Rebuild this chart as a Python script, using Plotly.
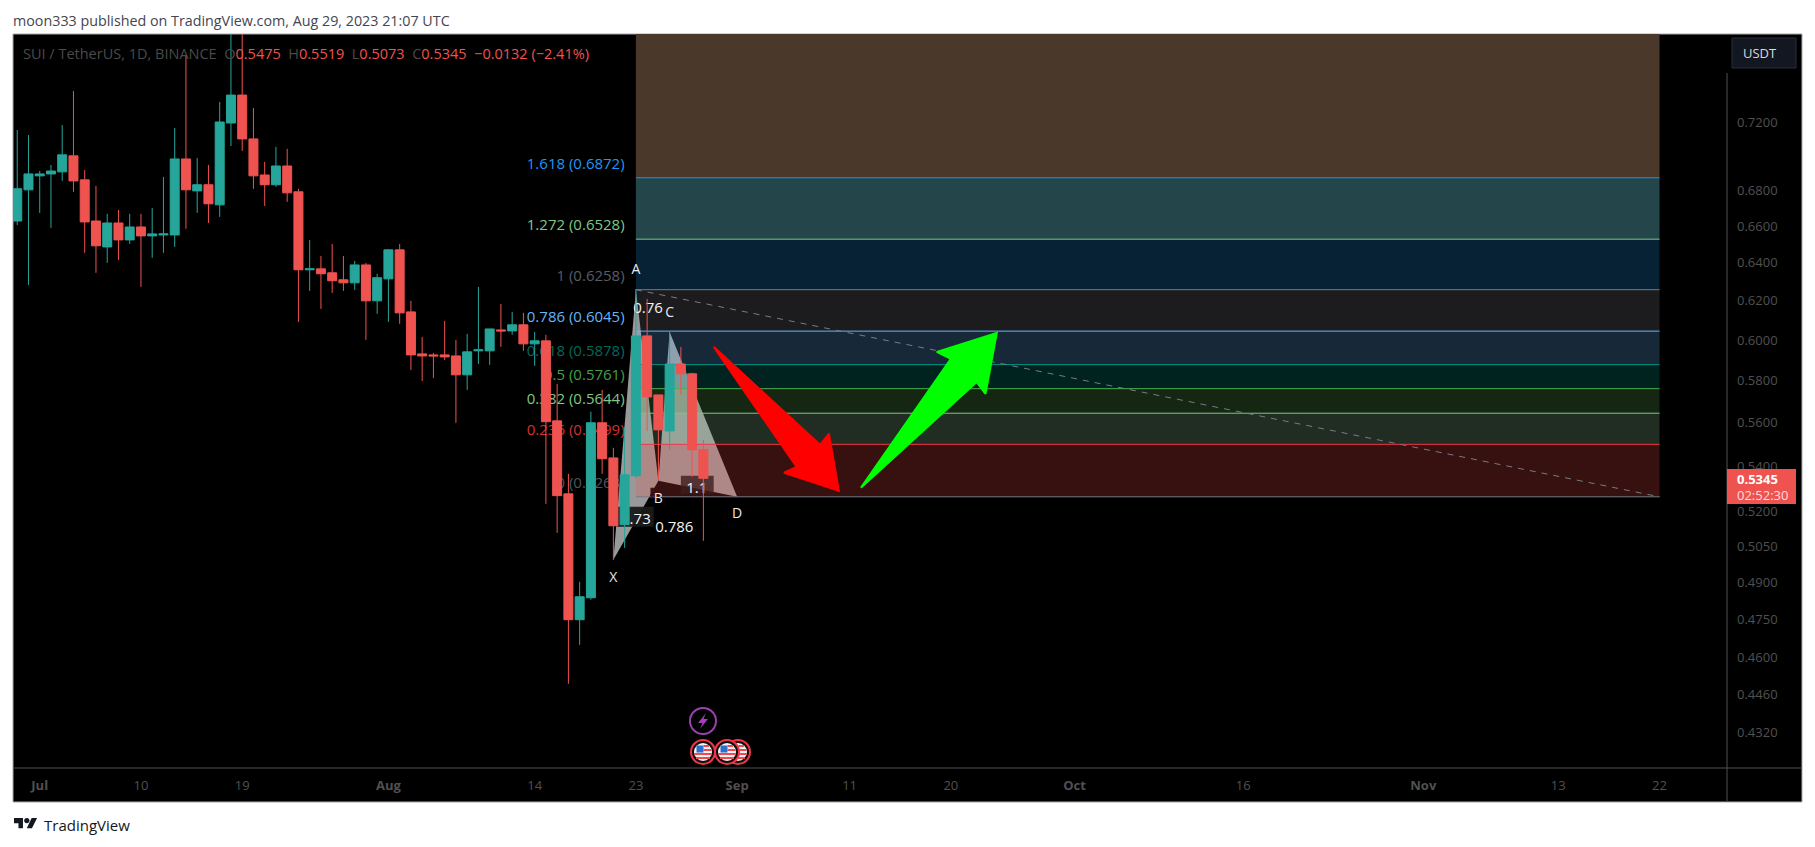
import pandas as pd
import plotly.graph_objects as go

FONT = "Open Sans, sans-serif"
UP = "#26a69a"
DOWN = "#ef5350"
TICK_GREY = "#505050"

first_day = "2023-06-29"
opens = [.6628,.6803,.6883,.6894,.6906,.6999,.6860,.6628,.6486,.6617,.6524,.6595,.6546,.6551,.6551,.6981,.6797,.6832,.6718,.7194,
         .7364,.7099,.6888,.6832,.6940,.6792,.6363,.6368,.6347,.6310,.6294,.6389,.6200,.6315,.6470,.6143,.5931,.5926,.5926,.5921,
         .5828,.5946,.5946,.6051,.6046,.6077,.5981,.5996,.5608,.5276,.4749,.4837,.5599,.5437,.5142,.5356,.6021,.5731,.5561,.5881,
         .5833,.5475]
highs = [.7152,.7122,.6911,.6946,.7182,.7389,.6917,.6826,.6668,.6690,.6668,.6668,.6701,.6877,.7164,.7615,.6987,.6946,.7322,.7900,
         .7900,.7285,.6964,.7052,.7040,.6809,.6524,.6437,.6502,.6437,.6411,.6400,.6342,.6475,.6502,.6200,.6016,.5936,.6097,.6001,
         .6031,.6273,.6056,.6184,.6143,.6138,.6041,.6026,.5784,.5365,.4902,.5651,.5755,.5483,.5580,.6262,.6210,.5731,.6041,.5966,
         .5838,.5519]
lows = [.6606,.6283,.6673,.6590,.6854,.6792,.6454,.6347,.6400,.6416,.6502,.6273,.6427,.6454,.6486,.6585,.6673,.6617,.6651,.7057,
        .7028,.6809,.6712,.6820,.6735,.6092,.6252,.6158,.6241,.6252,.6257,.6001,.6133,.6092,.6082,.5852,.5798,.5813,.5901,.5599,
        .5755,.5881,.5877,.5966,.6026,.5946,.5872,.5232,.5107,.4501,.4650,.4829,.5365,.4993,.5043,.5347,.5561,.5338,.5474,.5731,
        .5352,.5073]
closes = [.6809,.6894,.6894,.6911,.7005,.6854,.6623,.6492,.6617,.6524,.6595,.6546,.6557,.6557,.6981,.6803,.6832,.6724,.7200,.7364,
          .7099,.6883,.6832,.6940,.6786,.6363,.6368,.6342,.6305,.6294,.6389,.6200,.6321,.6470,.6138,.5926,.5921,.5921,.5916,.5828,
          .5941,.5951,.6056,.6046,.6077,.5981,.5996,.5604,.5268,.4749,.4841,.5599,.5433,.5137,.5361,.6021,.5721,.5566,.5881,.5833,
          .5474,.5345]

price_ticks = [.72,.68,.66,.64,.62,.60,.58,.56,.54,.52,.505,.49,.475,.46,.446,.432]
date_ticks = ["2023-07-01","2023-07-10","2023-07-19","2023-08-01","2023-08-14","2023-08-23","2023-09-01",
              "2023-09-11","2023-09-20","2023-10-01","2023-10-16","2023-11-01","2023-11-13","2023-11-22"]
date_tick_text = ["<b>Jul</b>","10","19","<b>Aug</b>","14","23","<b>Sep</b>","11","20","<b>Oct</b>","16","<b>Nov</b>","13","22"]

fib_start = "2023-08-23"
fib_end = "2023-11-22"
fib_ratios = ["0","0.236","0.382","0.5","0.618","0.786","1","1.272","1.618"]
fib_prices = [.5263,.5499,.5644,.5761,.5878,.6045,.6258,.6528,.6872]
fib_top = .7868
fib_line_colors = ["#787b86","#f23645","#81c784","#4caf50","#009688","#64b5f6","#787b86","#81c784","#2196f3"]
fib_text_colors = ["#50535c","#d32f2f","#81c784","#43a047","#00695c","#64b5f6","#5a5c65","#81c784","#2196f3"]
fib_fills = ["rgba(250,77,68,.22)","rgba(150,200,155,.22)","rgba(95,173,86,.22)","rgba(0,159,145,.22)",
             "rgba(105,182,255,.22)","rgba(127,127,136,.22)","rgba(32,150,241,.22)","#24464a","#4a392b"]

# Harmonic pattern pivots
pattern_x = ["2023-08-21","2023-08-23","2023-08-25","2023-08-26","2023-09-01"]
pattern_y = [.4993,.6258,.5334,.6041,.5263]

pattern_letters = ["X","A","B","C","D"]
letter_x = ["2023-08-21","2023-08-23","2023-08-25","2023-08-26","2023-09-01"]
letter_y = [.4918,.6363,.5254,.6138,.5189]
ratio_text = ["0.73","0.76","0.786","1.1"]
ratio_x = ["2023-08-23 00:00","2023-08-24 02:00","2023-08-26 10:00","2023-08-28 10:00"]
ratio_y = [.5167,.6165,.5133,.5303]

red_arrow_x = ["2023-08-29 22:00","2023-09-08 09:00","2023-09-09 04:00","2023-09-10 01:00","2023-09-05 04:00","2023-09-06 07:00","2023-08-29 22:00"]
red_arrow_y = [.5966,.5497,.5548,.5290,.5370,.5396,.5966]
green_arrow_x = ["2023-09-12 00:00","2023-09-20 00:00","2023-09-18 18:00","2023-09-24 02:00","2023-09-23 02:00","2023-09-22 07:00","2023-09-12 00:00"]
green_arrow_y = [.5303,.5906,.5941,.6036,.5736,.5793,.5303]

L, R, T, B = 13, 1727, 34, 768
def X(px): return (px - L) / (R - L)
def Y(py): return (B - py) / (B - T)

def paper_rect(x0, y0, x1, y1, fill="rgba(0,0,0,0)", line=None, width=1, layer="below", kind="rect"):
    return dict(type=kind, xref="paper", yref="paper", x0=X(x0), x1=X(x1), y0=Y(y0), y1=Y(y1),
                fillcolor=fill, line=dict(color=line or "rgba(0,0,0,0)", width=width if line else 0), layer=layer)

def paper_path(points, fill, layer="above", close=True, line=None, width=0):
    d = "M" + "L".join(f"{X(a):.5f},{Y(b):.5f}" for a, b in points) + ("Z" if close else "")
    return dict(type="path", xref="paper", yref="paper", path=d, fillcolor=fill,
                line=dict(color=line or "rgba(0,0,0,0)", width=width), layer=layer)

def text_shape(x0, x1, y, text, color, size, pos="middle", xa="center", ya="middle", pad=0):
    return dict(type="line", xref="x", yref="y", x0=x0, x1=x1, y0=y, y1=y, layer="below",
                line=dict(width=0, color="rgba(0,0,0,0)"),
                label=dict(text=text, textposition=pos, xanchor=xa, yanchor=ya, padding=pad,
                           font=dict(family=FONT, size=size, color=color)))

def centered_text(x, y, text, color="#e8e8e8", size=14):
    c = pd.Timestamp(x)
    h = pd.Timedelta(hours=3)
    return text_shape(str(c - h), str(c + h), y, text, color, size)

def data_rect(x0, x1, y0, y1, fill):
    return dict(type="rect", xref="x", yref="y", x0=x0, x1=x1, y0=y0, y1=y1, fillcolor=fill,
                line=dict(width=0), layer="below")

def triangle(i, j, k):
    d = f"M{pattern_x[i]},{pattern_y[i]}L{pattern_x[j]},{pattern_y[j]}L{pattern_x[k]},{pattern_y[k]}Z"
    return dict(type="path", xref="x", yref="y", path=d, fillcolor="#999999", line=dict(width=0), layer="below")

shapes = []
# frame and axis rules
shapes.append(paper_rect(L, T, 1802, 802, fill="#000000", line="#a9a9b0", width=1))
shapes.append(paper_rect(R, 73, R, 802, line="#505050", width=1, kind="line"))
shapes.append(paper_rect(L, B, 1802, B, line="#505050", width=1, kind="line"))

# fibonacci labels sit beneath the pattern and the candles
for ratio, price, col in zip(fib_ratios, fib_prices, fib_text_colors):
    shapes.append(text_shape("2023-08-22 00:00", fib_start, price, f"{ratio} ({price:.4f})", col, 15,
                             pos="start", xa="right", ya="bottom", pad=4))

shapes.append(triangle(0, 1, 2))
shapes.append(triangle(3, 2, 4))

tops = fib_prices[1:] + [fib_top]
for low, high, fill in zip(fib_prices, tops, fib_fills):
    shapes.append(data_rect(fib_start, fib_end, low, high, fill))
for price, col in zip(fib_prices, fib_line_colors):
    shapes.append(dict(type="line", xref="x", yref="y", x0=fib_start, x1=fib_end, y0=price, y1=price,
                       line=dict(color=col, width=1), layer="below"))
shapes.append(dict(type="line", xref="x", yref="y", x0=fib_start, x1=fib_end, y0=fib_prices[6], y1=fib_prices[0],
                   line=dict(color="#787b86", width=1, dash="6px,6px"), layer="below"))

shapes.append(data_rect("2023-08-21 07:00", "2023-08-24 14:00", .5133, .5219, "rgba(26,26,26,.95)"))
shapes.append(data_rect("2023-08-24 07:00", "2023-08-25 07:00", .5263, .5303, "rgba(60,15,15,.95)"))
shapes.append(data_rect("2023-08-27 00:00", "2023-08-29 22:00", .5276, .5356, "rgba(60,30,28,.8)"))

for x, y, t in zip(letter_x, letter_y, pattern_letters):
    shapes.append(centered_text(x, y, t))
for x, y, t in zip(ratio_x, ratio_y, ratio_text):
    shapes.append(centered_text(x, y, t, color="#f5f5f5", size=15))

# price tag and currency button
shapes.append(paper_rect(1727, 469, 1796, 504, fill=DOWN, layer="above"))
shapes.append(paper_rect(1732, 38, 1796, 68, fill="#131722", line="#2a2e39", width=1, layer="above"))

# events
def flag(cx, cy):
    out = [paper_rect(cx-12, cy-12, cx+12, cy+12, fill="#101010", line="#f23645", width=2, layer="above", kind="circle"),
           paper_rect(cx-9, cy-9, cx+9, cy+9, fill="#f4f4f4", layer="above", kind="circle"),
           paper_rect(cx-6.5, cy-6.5, cx+0.5, cy+0.5, fill="#2b6fd0", layer="above")]
    for top, half in ((-7, 6), (-3, 8.5), (1, 8.8), (5, 7)):
        left = cx + 0.5 if top < 0 else cx - half
        out.append(paper_rect(left, cy+top, cx+half, cy+top+2, fill="#ef4a54", layer="above"))
    return out

shapes.append(paper_rect(690, 708, 716, 734, fill="#000000", line="#9c3fb0", width=2, layer="above", kind="circle"))
shapes.append(paper_path([(706,713),(698,723),(702.5,723),(700,729),(708,719),(703.5,719)], "#a23fb8"))
for cx in (738, 727, 703):
    shapes.extend(flag(cx, 752))

# TradingView mark
def logo(vx, vy): return (14 + .64 * vx, 814.2 + .64 * vy)
shapes.append(paper_path([logo(*p) for p in [(0,6),(14,6),(14,22),(7,22),(7,14),(0,14)]], "#131722"))
shapes.append(paper_path([logo(*p) for p in [(28,22),(20,22),(27.5,6),(36,6)]], "#131722"))
cx, cy = logo(20, 10)
shapes.append(paper_rect(cx-2.6, cy-2.6, cx+2.6, cy+2.6, fill="#131722", layer="above", kind="circle"))

fig = go.Figure()
fig.add_trace(go.Candlestick(
    x=pd.date_range(first_day, periods=len(opens)).strftime("%Y-%m-%d").tolist(),
    open=opens, high=highs, low=lows, close=closes, whiskerwidth=0, showlegend=False,
    increasing=dict(line=dict(color=UP, width=1), fillcolor=UP),
    decreasing=dict(line=dict(color=DOWN, width=1), fillcolor=DOWN)))
fig.add_trace(go.Scatter(x=red_arrow_x, y=red_arrow_y, mode="lines", fill="toself", fillcolor="#ff0000",
                         line=dict(color="#ff0000", width=2), showlegend=False, hoverinfo="skip"))
fig.add_trace(go.Scatter(x=green_arrow_x, y=green_arrow_y, mode="lines", fill="toself", fillcolor="#00ff00",
                         line=dict(color="#00ff00", width=2), showlegend=False, hoverinfo="skip"))

def note(px, py, text, color, size=13, xa="left"):
    return dict(xref="paper", yref="paper", x=X(px), y=Y(py), text=text, showarrow=False, xanchor=xa, yanchor="middle",
                font=dict(family=FONT, size=size, color=color), align="left", borderpad=0, borderwidth=0)

G = "#4a4a4a"
def v(t): return f'<span style="color:#f0524f">{t}</span>'
legend = ("SUI / TetherUS, 1D, BINANCE &nbsp;O" + v("0.5475") + " &nbsp;H" + v("0.5519") + " &nbsp;L" + v("0.5073") +
          " &nbsp;C" + v("0.5345") + " &nbsp;" + v("−0.0132 (−2.41%)"))
annotations = [
    note(13, 20, "moon333 published on TradingView.com, Aug 29, 2023 21:07 UTC", "#434651", 14.3),
    note(23, 53, legend, G, 14.5),
    note(1743, 53, "USDT", "#d8dade", 13),
    note(1737, 479, "<b>0.5345</b>", "#ffffff", 13),
    note(1737, 495, "02:52:30", "#fbdcdb", 13),
    note(44, 825, "TradingView", "#131722", 15),
]

fig.update_layout(
    width=1815, height=847, autosize=False,
    margin=dict(l=L, r=1815 - R, t=T, b=847 - B, pad=0),
    paper_bgcolor="#ffffff", plot_bgcolor="rgba(0,0,0,0)",
    showlegend=False, boxgap=0.2, boxgroupgap=0,
    shapes=shapes, annotations=annotations,
    font=dict(family=FONT),
    xaxis=dict(type="date", range=["2023-06-28 15:00", "2023-11-28 00:00"], rangeslider=dict(visible=False),
               showgrid=False, zeroline=False, showline=False, ticks="",
               tickmode="array", tickvals=date_ticks, ticktext=date_tick_text, ticklabelstandoff=8,
               tickfont=dict(family=FONT, size=13, color=TICK_GREY)),
    yaxis=dict(type="log", side="right", range=[-0.37725, -0.11071],
               showgrid=False, zeroline=False, showline=False, ticks="",
               tickmode="array", tickvals=price_ticks, ticktext=[f"{p:.4f}" for p in price_ticks],
               ticklabelstandoff=9, tickfont=dict(family=FONT, size=13, color=TICK_GREY)),
)

fig.write_html("out.html", config={"displayModeBar": False},
               post_script="document.body.style.margin='0';document.body.style.overflow='hidden';")
